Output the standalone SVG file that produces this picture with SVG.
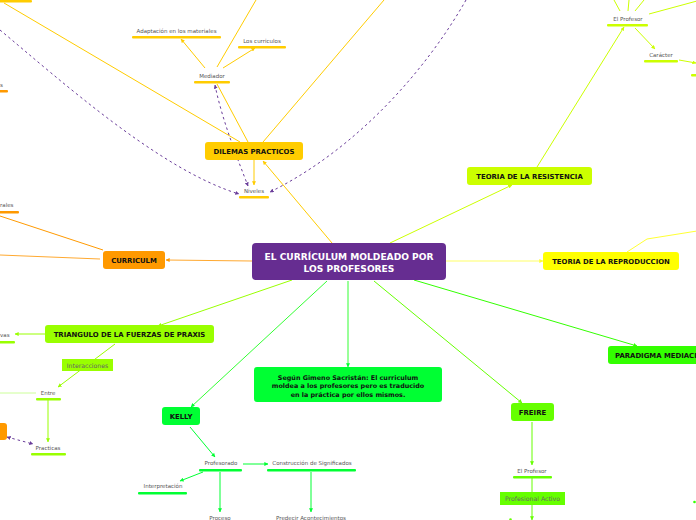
<svg xmlns="http://www.w3.org/2000/svg" width="696" height="520" viewBox="0 0 696 520">
<style>
.t{font-family:"DejaVu Sans",Verdana,sans-serif;font-weight:bold;fill:#111;text-anchor:middle;font-size:6.9px}
.s{font-family:"DejaVu Sans",Verdana,sans-serif;font-size:5.5px;fill:#555;text-anchor:middle}
.l{text-anchor:start}
.c{fill:none;stroke-width:1}
.d{fill:none;stroke:#6A3D9A;stroke-width:1;stroke-dasharray:2.5 3}
</style>
<defs>
<marker id="aY" viewBox="0 0 6 6" refX="5.5" refY="3" markerWidth="4" markerHeight="4" markerUnits="userSpaceOnUse" orient="auto"><path d="M0,0L6,3L0,6z" fill="#FFCC00"/></marker>
<marker id="aO" viewBox="0 0 6 6" refX="5.5" refY="3" markerWidth="4" markerHeight="4" markerUnits="userSpaceOnUse" orient="auto"><path d="M0,0L6,3L0,6z" fill="#FF9900"/></marker>
<marker id="aL" viewBox="0 0 6 6" refX="5.5" refY="3" markerWidth="4" markerHeight="4" markerUnits="userSpaceOnUse" orient="auto"><path d="M0,0L6,3L0,6z" fill="#FFFF33"/></marker>
<marker id="aG1" viewBox="0 0 6 6" refX="5.5" refY="3" markerWidth="4" markerHeight="4" markerUnits="userSpaceOnUse" orient="auto"><path d="M0,0L6,3L0,6z" fill="#CCFF00"/></marker>
<marker id="aG2" viewBox="0 0 6 6" refX="5.5" refY="3" markerWidth="4" markerHeight="4" markerUnits="userSpaceOnUse" orient="auto"><path d="M0,0L6,3L0,6z" fill="#99FF00"/></marker>
<marker id="aG3" viewBox="0 0 6 6" refX="5.5" refY="3" markerWidth="4" markerHeight="4" markerUnits="userSpaceOnUse" orient="auto"><path d="M0,0L6,3L0,6z" fill="#00FF33"/></marker>
<marker id="aG4" viewBox="0 0 6 6" refX="5.5" refY="3" markerWidth="4" markerHeight="4" markerUnits="userSpaceOnUse" orient="auto"><path d="M0,0L6,3L0,6z" fill="#66FF00"/></marker>
<marker id="aG5" viewBox="0 0 6 6" refX="5.5" refY="3" markerWidth="4" markerHeight="4" markerUnits="userSpaceOnUse" orient="auto"><path d="M0,0L6,3L0,6z" fill="#33FF00"/></marker>
<marker id="aP" viewBox="0 0 6 6" refX="5.5" refY="3" markerWidth="4" markerHeight="4" markerUnits="userSpaceOnUse" orient="auto"><path d="M0,0L6,3L0,6z" fill="#6A3D9A"/></marker>
<marker id="aPs" viewBox="0 0 6 6" refX="0.5" refY="3" markerWidth="4" markerHeight="4" markerUnits="userSpaceOnUse" orient="auto"><path d="M6,0L0,3L6,6z" fill="#6A3D9A"/></marker>
</defs>

<g id="connectors">
<line class="c" stroke="#FFCC00" x1="332" y1="243" x2="263" y2="161" marker-end="url(#aY)"/>
<line class="c" stroke="#FFCC00" x1="248" y1="142" x2="217" y2="84"/>
<line class="c" stroke="#FFCC00" x1="263" y1="142" x2="384" y2="0"/>
<line class="c" stroke="#FFCC00" x1="240" y1="142" x2="4" y2="3"/>
<line class="c" stroke="#FFCC00" x1="254" y1="160" x2="254" y2="185" marker-end="url(#aY)"/>
<line class="c" stroke="#FFCC00" x1="205" y1="68" x2="181" y2="39" marker-end="url(#aY)"/>
<line class="c" stroke="#FFCC00" x1="223" y1="68" x2="255" y2="48" marker-end="url(#aY)"/>
<line class="c" stroke="#FFCC00" x1="217" y1="67" x2="256" y2="0"/>
<path class="d" d="M215,85 C222,120 238,160 248,186" marker-start="url(#aPs)" marker-end="url(#aP)"/>
<path class="d" d="M0,30 C60,80 160,170 239,194" marker-end="url(#aP)"/>
<path class="d" d="M466,0 C425,72 355,150 270,192" marker-end="url(#aP)"/>
<path class="d" d="M7,437 L33,444" marker-start="url(#aPs)" marker-end="url(#aP)"/>
<line class="c" stroke="#FFA930" x1="252" y1="261" x2="166" y2="260" marker-end="url(#aO)"/>
<line class="c" stroke="#FF9900" x1="103" y1="250" x2="0" y2="216"/>
<line class="c" stroke="#FFA930" x1="100" y1="259" x2="0" y2="255"/>
<line class="c" stroke="#FFFF66" x1="446" y1="261" x2="543" y2="261" marker-end="url(#aL)"/>
<polyline class="c" stroke="#FFFF33" points="627,252 647,239 697,231"/>
<line class="c" stroke="#CCFF00" x1="390" y1="243" x2="512" y2="185" marker-end="url(#aG1)"/>
<line class="c" stroke="#CCFF00" x1="537" y1="167" x2="624" y2="27" marker-end="url(#aG1)"/>
<line class="c" stroke="#CCFF00" x1="620" y1="11" x2="614" y2="0"/>
<line class="c" stroke="#CCFF00" x1="628" y1="11" x2="629" y2="0"/>
<line class="c" stroke="#CCFF00" x1="635" y1="11" x2="644" y2="0"/>
<line class="c" stroke="#CCFF00" x1="649" y1="14" x2="697" y2="1"/>
<line class="c" stroke="#CCFF00" x1="635" y1="28" x2="655" y2="49" marker-end="url(#aG1)"/>
<line class="c" stroke="#CCFF00" x1="679" y1="60" x2="696" y2="63" marker-end="url(#aG1)"/>
<line class="c" stroke="#99FF00" x1="292" y1="280" x2="158" y2="326" marker-end="url(#aG2)"/>
<line class="c" stroke="#99FF00" x1="45" y1="334" x2="15" y2="334" marker-end="url(#aG2)"/>
<line class="c" stroke="#99FF00" x1="115" y1="344" x2="58" y2="387" marker-end="url(#aG2)"/>
<line class="c" stroke="#CCFF99" x1="36" y1="393" x2="0" y2="393"/>
<line class="c" stroke="#99FF00" x1="48" y1="400" x2="48" y2="442" marker-end="url(#aG2)"/>
<line class="c" stroke="#33FF33" x1="327" y1="281" x2="191" y2="407" marker-end="url(#aG3)"/>
<line class="c" stroke="#33FF33" x1="348" y1="281" x2="348" y2="367" marker-end="url(#aG3)"/>
<line class="c" stroke="#66FF00" x1="374" y1="281" x2="522" y2="403" marker-end="url(#aG4)"/>
<line class="c" stroke="#33FF00" x1="414" y1="280" x2="637" y2="346" marker-end="url(#aG5)"/>
<line class="c" stroke="#00FF33" x1="190" y1="427" x2="215" y2="457" marker-end="url(#aG3)"/>
<line class="c" stroke="#00FF33" x1="243" y1="464" x2="268" y2="464" marker-end="url(#aG3)"/>
<line class="c" stroke="#00FF33" x1="203" y1="472" x2="180" y2="481" marker-end="url(#aG3)"/>
<line class="c" stroke="#00FF33" x1="220" y1="472" x2="220" y2="512" marker-end="url(#aG3)"/>
<line class="c" stroke="#00FF33" x1="311" y1="472" x2="311" y2="512" marker-end="url(#aG3)"/>
<line class="c" stroke="#66FF00" x1="532" y1="422" x2="532" y2="465" marker-end="url(#aG4)"/>
<line class="c" stroke="#66FF00" x1="532" y1="478" x2="532" y2="520" marker-end="url(#aG4)"/>
</g>

<g id="central">
<rect x="252" y="243" width="194" height="37" rx="4" fill="#662D91"/>
<text class="t" x="349" y="260" style="fill:#fff;font-size:9.1px">EL CURRÍCULUM MOLDEADO POR</text>
<text class="t" x="349" y="271.5" style="fill:#fff;font-size:9.1px">LOS PROFESORES</text>
</g>

<g id="dilemas">
<rect x="205" y="142" width="98" height="18" rx="3" fill="#FFCC00"/>
<text class="t" x="254" y="153.5">DILEMAS PRACTICOS</text>
</g>
<g id="adaptacion"><text class="s" x="176.5" y="33">Adaptación en los materiales</text><rect x="132" y="36" width="89" height="2.5" rx="1" fill="#FFCC00"/></g>
<g id="curriculos"><text class="s" x="262" y="43">Los curriculos</text><rect x="238" y="46" width="48" height="2.5" rx="1" fill="#FFCC00"/></g>
<g id="mediador"><text class="s" x="212" y="78">Mediador</text><rect x="194" y="81" width="36" height="2.5" rx="1" fill="#FFCC00"/></g>
<g id="niveles"><text class="s" x="254" y="193">Niveles</text><rect x="239" y="196" width="30" height="2.5" rx="1" fill="#FFCC00"/></g>
<g id="topleft-yellow"><rect x="-4" y="0" width="36" height="2.5" rx="1" fill="#FFCC00"/></g>

<g id="curriculm">
<rect x="103" y="251" width="62" height="18" rx="3" fill="#FF9900"/>
<text class="t" x="134" y="262.5">CURRICULM</text>
</g>
<g id="orange-s"><text class="s l" x="0" y="87">s</text><rect x="-4" y="90" width="12" height="2.5" rx="1" fill="#FF9900"/></g>
<g id="orange-rales"><text class="s l" x="0" y="207">rales</text><rect x="-4" y="211" width="23" height="2.5" rx="1" fill="#FF9900"/></g>
<g id="orange-box"><rect x="-10" y="423" width="17" height="17" rx="3" fill="#FF9900"/></g>

<g id="reproduccion">
<rect x="543" y="252" width="136" height="18" rx="3" fill="#FFFF00"/>
<text class="t" x="611" y="263.5">TEORIA DE LA REPRODUCCION</text>
</g>

<g id="resistencia">
<rect x="467" y="167" width="125" height="18" rx="3" fill="#CCFF00"/>
<text class="t" x="529.5" y="178.5">TEORIA DE LA RESISTENCIA</text>
</g>
<g id="elprofesor-top"><text class="s" x="628" y="21">El  Profesor</text><rect x="607" y="24" width="41" height="2.5" rx="1" fill="#CCFF00"/></g>
<g id="caracter"><text class="s" x="661" y="57">Carácter</text><rect x="644" y="60" width="34" height="2.5" rx="1" fill="#CCFF00"/></g>
<g id="right-bar"><rect x="691" y="74" width="8" height="2.5" rx="1" fill="#CCFF00"/></g>

<g id="triangulo">
<rect x="45" y="325" width="169" height="18" rx="3" fill="#99FF00"/>
<text class="t" x="129.5" y="336.5">TRIANGULO DE LA FUERZAS DE PRAXIS</text>
</g>
<g id="vas"><text class="s l" x="0" y="337">vas</text><rect x="-4" y="341" width="19" height="2.5" rx="1" fill="#99FF00"/></g>
<g id="interacciones"><rect x="62" y="359" width="51" height="12" fill="#99FF00"/><text class="s" x="87.5" y="367.5" style="font-size:6.2px;fill:#666">Interacciones</text></g>
<g id="entre"><text class="s" x="48" y="395">Entre</text><rect x="36" y="398" width="25" height="2.5" rx="1" fill="#99FF00"/></g>
<g id="practicas"><text class="s" x="48" y="450">Practicas</text><rect x="31" y="453" width="35" height="2.5" rx="1" fill="#99FF00"/></g>

<g id="segun">
<rect x="254" y="367" width="188" height="35" rx="3" fill="#00FF33"/>
<text class="t" x="348" y="379.5" style="font-size:6.4px">Según Gimeno Sacristán: El curriculum</text>
<text class="t" x="348" y="388" style="font-size:6.4px">moldea a los profesores pero es traducido</text>
<text class="t" x="348" y="396.5" style="font-size:6.4px">en la práctica por ellos mismos.</text>
</g>

<g id="kelly">
<rect x="162" y="407" width="38" height="18" rx="3" fill="#00FF33"/>
<text class="t" x="181" y="418.5">KELLY</text>
</g>
<g id="profesorado"><text class="s" x="221" y="465">Profesorado</text><rect x="199" y="469" width="43" height="2.5" rx="1" fill="#00FF33"/></g>
<g id="construccion"><text class="s" x="312" y="465">Construcción de Significados</text><rect x="267" y="469" width="89" height="2.5" rx="1" fill="#00FF33"/></g>
<g id="interpretacion"><text class="s" x="163" y="488">Interpretación</text><rect x="138" y="492" width="49" height="2.5" rx="1" fill="#00FF33"/></g>
<g id="proceso"><text class="s" x="220" y="520">Proceso</text></g>
<g id="predecir"><text class="s" x="311" y="520">Predecir Acontecimientos</text></g>

<g id="freire">
<rect x="511" y="403" width="43" height="18" rx="3" fill="#66FF00"/>
<text class="t" x="532.5" y="414.5">FREIRE</text>
</g>
<g id="elprofesor-freire"><text class="s" x="532" y="473">El Profesor</text><rect x="513" y="476" width="39" height="2.5" rx="1" fill="#66FF00"/></g>
<g id="profesional"><rect x="500" y="492" width="65" height="13" fill="#66FF00"/><text class="s" x="532.5" y="501" style="font-size:6.2px;fill:#666">Profesional Activo</text></g>

<g id="paradigma">
<rect x="608" y="346" width="100" height="18" rx="3" fill="#33FF00"/>
<text class="t l" x="615" y="357.5">PARADIGMA MEDIACIONAL</text>
</g>
<g id="dots"><circle cx="694.5" cy="502" r="1.3" fill="#33FF00"/><circle cx="510.5" cy="519.5" r="1.3" fill="#66FF00"/></g>
</svg>
